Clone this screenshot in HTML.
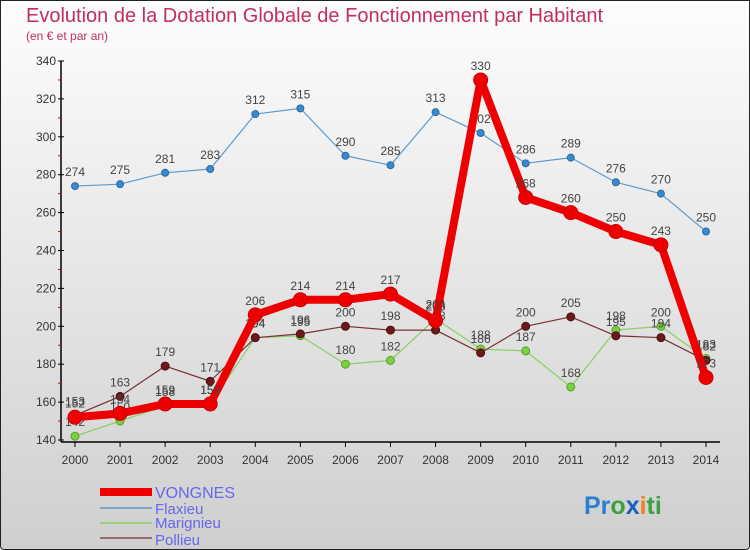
<!DOCTYPE html>
<html><head><meta charset="utf-8"><style>
body{margin:0;width:750px;height:550px;overflow:hidden;font-family:"Liberation Sans",sans-serif}
#wrap{position:absolute;left:0;top:0;width:748px;height:548px;border:1px solid #222;background:linear-gradient(#fdfdfd,#cfcfcf);border-radius:0 0 4px 4px}
</style></head><body>
<div id="wrap">
<svg id="svg" width="750" height="550" style="position:absolute;left:-1px;top:-1px">
<text x="26" y="22" font-size="20" fill="#c0305a">Evolution de la Dotation Globale de Fonctionnement par Habitant</text>
<text x="26" y="40" font-size="12" fill="#c0305a">(en € et par an)</text>
<g id="axes"></g><g id="series"></g>
<g>
<line x1="100" y1="492" x2="152" y2="492" stroke="#e00" stroke-width="8"/>
<text x="155" y="498" font-size="16" fill="#6666ee">VONGNES</text>
<line x1="100" y1="508" x2="152" y2="508" stroke="#7fa8c8" stroke-width="2"/>
<text x="155" y="514" font-size="15" fill="#6666ee">Flaxieu</text>
<line x1="100" y1="523" x2="152" y2="523" stroke="#9ad27a" stroke-width="2"/>
<text x="155" y="528" font-size="15" fill="#6666ee">Marignieu</text>
<line x1="100" y1="538" x2="152" y2="538" stroke="#9a6a6a" stroke-width="2"/>
<text x="155" y="545" font-size="15" fill="#6666ee">Pollieu</text>
</g>
<text x="584" y="514" font-size="25" font-weight="bold"><tspan fill="#2a7fd0">Pr</tspan><tspan fill="#3aa040">o</tspan><tspan fill="#1a5fc0">x</tspan><tspan fill="#f08020">i</tspan><tspan fill="#3aa040">ti</tspan></text>
</svg></div>
<script>
const years=[2000,2001,2002,2003,2004,2005,2006,2007,2008,2009,2010,2011,2012,2013,2014];
const yTicks=[140,160,180,200,220,240,260,280,300,320,340];
const vongnes=[152,154,159,159,206,214,214,217,203,330,268,260,250,243,173];
const flaxieu=[274,275,281,283,312,315,290,285,313,302,286,289,276,270,250];
const marignieu=[142,150,158,159,194,195,180,182,204,188,187,168,198,200,183];
const pollieu=[153,163,179,171,194,196,200,198,198,186,200,205,195,194,182];
const NS='http://www.w3.org/2000/svg';
const xS=i=>75+i*(706-75)/(years.length-1);
const yS=v=>440-(v-140)*(440-61)/200;
function mk(tag,at,parent){const e=document.createElementNS(NS,tag);for(const k in at)e.setAttribute(k,at[k]);parent.appendChild(e);return e;}
const ax=document.getElementById('axes'),sg=document.getElementById('series');
let a=mk('line',{x1:61,y1:61,x2:61,y2:442,stroke:'#000','stroke-width':1.5},ax);


a=mk('line',{x1:61,y1:442,x2:720,y2:442,stroke:'#000','stroke-width':1.5},ax);


yTicks.forEach((t,i)=>{const y=yS(t);
mk('line',{x1:58,y1:y,x2:64,y2:y,stroke:'#000'},ax);
if(i<yTicks.length-1)mk('line',{x1:58,y1:yS(t+10),x2:61,y2:yS(t+10),stroke:'#d00'},ax);
const tx=mk('text',{x:56,y:y+4,'font-size':12,'text-anchor':'end',fill:'#333'},ax);tx.textContent=t;

});
years.forEach((yr,i)=>{const x=xS(i);mk('line',{x1:x,y1:442,x2:x,y2:447,stroke:'#000'},ax);
const tx=mk('text',{x:x,y:464,'font-size':12,'text-anchor':'middle',fill:'#333'},ax);tx.textContent=yr;

});
function series(name,data,col,w,r,dot,stroke){
const g=mk('g',{},sg);


mk('polyline',{points:data.map((v,i)=>xS(i)+','+yS(v)).join(' '),fill:'none',stroke:col,'stroke-width':w,'stroke-linejoin':'round'},g);
data.forEach((v,i)=>{const c=mk('circle',{cx:xS(i),cy:yS(v),r:r,fill:dot,stroke:stroke,'stroke-width':1},g);


const t=mk('text',{x:xS(i),y:yS(v)-10,'font-size':12,'text-anchor':'middle',fill:'#444'},g);t.textContent=v;

});}
series('flaxieu',flaxieu,'#5b9bd0',1.2,3.5,'#3a8ad0','#2a6aa0');
series('marignieu',marignieu,'#88d060',1.2,4,'#7ad040','#5aa030');
series('pollieu',pollieu,'#7a3030',1.2,4,'#6a1a1a','#4a1010');
series('vongnes',vongnes,'#ee0000',8,7,'#ee0000','#cc0000');
</script>
</body></html>
